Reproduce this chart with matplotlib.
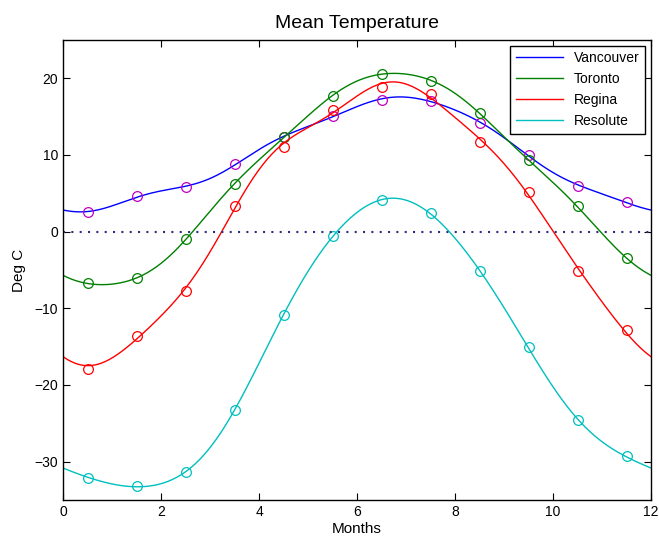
import numpy as np
import matplotlib
matplotlib.use("Agg")
import matplotlib.pyplot as plt

plt.rcParams['font.family'] = ['Liberation Sans', 'DejaVu Sans']

# monthly mean temperatures (mid-month)
months = [0.5, 1.5, 2.5, 3.5, 4.5, 5.5, 6.5, 7.5, 8.5, 9.5, 10.5, 11.5]
vancouver = [2.5, 4.6, 5.8, 8.8, 12.3, 15.1, 17.2, 17.1, 14.2, 10.0, 6.0, 3.9]
toronto = [-6.7, -6.1, -1.0, 6.2, 12.3, 17.7, 20.6, 19.7, 15.5, 9.3, 3.3, -3.5]
regina = [-17.9, -13.6, -7.8, 3.4, 11.1, 15.9, 18.9, 17.9, 11.7, 5.2, -5.1, -12.8]
resolute = [-32.1, -33.2, -31.4, -23.2, -10.9, -0.6, 4.1, 2.4, -5.1, -15.1, -24.5, -29.3]

names = ["Vancouver", "Toronto", "Regina", "Resolute"]
line_colors = ["#0000ff", "#008000", "#ff0000", "#00bfbf"]
marker_colors = ["#bf00bf", "#008000", "#ff0000", "#00bfbf"]


def fourier_fit(x, y, order, xx):
    # least squares trig fit with period 12
    x = np.asarray(x)
    w = 2 * np.pi / 12

    def design(t):
        cols = [np.ones_like(t)]
        for k in range(1, order + 1):
            cols.append(np.cos(k * w * t))
            cols.append(np.sin(k * w * t))
        return np.column_stack(cols)

    coef, *_ = np.linalg.lstsq(design(x), np.asarray(y), rcond=None)
    return design(xx) @ coef


fig = plt.figure(figsize=(6.59, 5.44), dpi=100)
ax = fig.add_axes([63 / 659, 44 / 544, 588 / 659, 460 / 544])

xx = np.linspace(0, 12, 400)
for data, name, lc, mc in zip([vancouver, toronto, regina, resolute], names, line_colors, marker_colors):
    ax.plot(xx, fourier_fit(months, data, 5, xx), color=lc, lw=1, label=name)
    ax.plot(months, data, 'o', mfc='none', mec=mc, ms=7, mew=0.9)

ax.axhline(0, color="#303080", ls=(0, (1, 3)), lw=1.5)

ax.set_xlim(0, 12)
ax.set_ylim(-35, 25)
ax.set_xticks([0, 2, 4, 6, 8, 10, 12])
ax.set_yticks([-30, -20, -10, 0, 10, 20])
ax.set_yticklabels(["\u221230", "\u221220", "\u221210", "0", "10", "20"])
ax.tick_params(direction='in', top=True, right=True, length=5, labelsize=10)
for s in ax.spines.values():
    s.set_linewidth(1)

ax.set_title("Mean Temperature", fontsize=14, pad=9)
ax.set_xlabel("Months", fontsize=11, labelpad=2)
ax.set_ylabel("Deg C", fontsize=11, labelpad=6)

leg = ax.legend(loc='upper right', fontsize=10, fancybox=False, edgecolor='black',
                framealpha=1, borderaxespad=0.4, handlelength=3.4, labelspacing=0.5)
leg.get_frame().set_linewidth(1)

fig.savefig("out.png", dpi=100)
